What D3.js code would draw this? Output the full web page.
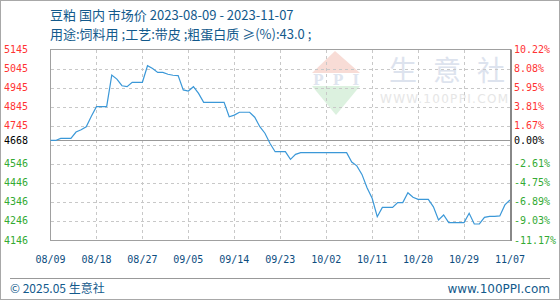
<!DOCTYPE html>
<html>
<head>
<meta charset="utf-8">
<script src="https://cdn.jsdelivr.net/npm/d3@7"></script>
<style>
  body { margin: 0; background: #fff; }
  svg { display: block; }
</style>
</head>
<body>
<svg id="chart" width="560" height="300"></svg>
<script>
// 豆粕 国内 市场价, one value per day from 08/09 to 11/07
const startDate = "2023-08-09";
const endDate = "2023-11-07";
const prices = [
  4668, 4668, 4679, 4679, 4679, 4712, 4724, 4740, 4795, 4845,
  4845, 4845, 5011, 4990, 4955, 4950, 4973, 4973, 4973, 5060,
  5045, 5025, 5025, 5015, 5010, 5008, 4933, 4927, 4950, 4915,
  4868, 4868, 4868, 4868, 4868, 4792, 4801, 4816, 4816, 4816,
  4790, 4740, 4706, 4652, 4609, 4609, 4609, 4569, 4595, 4604,
  4604, 4604, 4604, 4604, 4604, 4604, 4604, 4604, 4604, 4555,
  4535, 4490, 4420, 4365, 4268, 4317, 4317, 4317, 4342, 4342,
  4394, 4370, 4359, 4359, 4359, 4320, 4251, 4277, 4237, 4237,
  4237, 4237, 4286, 4230, 4230, 4265, 4270, 4270, 4272, 4330,
  4356
];
const basePrice = 4668;
const leftTicks = [5145, 5045, 4945, 4845, 4745, 4668, 4546, 4446, 4346, 4246, 4146];
const rightTicks = ["10.22%", "8.08%", "5.95%", "3.81%", "1.67%", "0.00%",
  "-2.61%", "-4.75%", "-6.89%", "-9.03%", "-11.17%"];
const gridValues = [5045, 4945, 4845, 4745, 4645, 4545, 4445, 4345, 4245];
const xTickLabels = ["08/09", "08/18", "08/27", "09/05", "09/14", "09/23",
  "10/02", "10/11", "10/20", "10/29", "11/07"];
const title = "豆粕 国内 市场价 2023-08-09 - 2023-11-07";
const subtitle = "用途:饲料用 ;工艺:带皮 ;粗蛋白质 ≥(%):43.0 ;";

const svg = d3.select("#chart");
const W = 560, H = 300;
const plot = { left: 50.5, right: 510, top: 49.5, bottom: 240 };
const blue = "#135a8c";
const mono = "'DejaVu Sans Mono', 'Liberation Mono', monospace";
const cjk = "'Noto Sans CJK SC', 'Noto Sans', sans-serif";

const parse = d3.timeParse("%Y-%m-%d");
const t0 = parse(startDate), t1 = parse(endDate);
const days = d3.timeDay.range(t0, d3.timeDay.offset(t1, 1));
const data = days.map((d, i) => ({ date: d, value: prices[i] }));

const x = d3.scaleTime().domain([t0, t1]).range([plot.left, plot.right]);
const y = d3.scaleLinear().domain([4146, 5145]).range([plot.bottom, plot.top]);

// outer frame
svg.append("rect")
  .attr("x", 0.5).attr("y", 0.5)
  .attr("width", W - 1).attr("height", H - 1)
  .attr("fill", "#fff").attr("stroke", "#a8a8a8");

// titles
svg.append("text").attr("x", 50).attr("y", 20)
  .attr("fill", blue).style("font", "13px " + cjk).text(title);
svg.append("text").attr("x", 50).attr("y", 39)
  .attr("fill", blue).style("font", "13px " + cjk).text(subtitle);

// watermark
const wm = svg.append("g");
wm.append("path").attr("d", "M335,51 L360,73 L312,73 Z").attr("fill", "#f8dcd6");
wm.append("path").attr("d", "M312,86 L360,86 L336,115 Z").attr("fill", "#dcf1df");
wm.append("text").attr("x", 336).attr("y", 85).attr("text-anchor", "middle")
  .attr("fill", "#dfe5ef").style("font", "bold 14px 'DejaVu Serif', serif")
  .attr("textLength", 46).text("PPI");
wm.selectAll("text.sys").data(["生", "意", "社"]).enter().append("text")
  .attr("x", (d, i) => 403 + i * 44).attr("y", 81)
  .attr("text-anchor", "middle").attr("fill", "#dde3ee")
  .style("font", "28px " + cjk).text(d => d);
wm.append("text").attr("x", 380).attr("y", 103)
  .attr("fill", "#e6e6e6").style("font", "12px 'DejaVu Sans', sans-serif")
  .attr("textLength", 128).text("WWW.100PPI.COM");

// grid
const grid = svg.append("g")
  .attr("stroke", "#c8c8c8").attr("stroke-dasharray", "3,3")
  .attr("shape-rendering", "crispEdges");
grid.selectAll("line.h").data(gridValues).enter().append("line")
  .attr("x1", plot.left).attr("x2", plot.right)
  .attr("y1", d => Math.round(y(d)) + 0.5).attr("y2", d => Math.round(y(d)) + 0.5);
const tickDates = xTickLabels.map((s, i) => d3.timeDay.offset(t0, i * 9));
grid.selectAll("line.v").data(tickDates.slice(1, -1)).enter().append("line")
  .attr("x1", d => Math.round(x(d)) + 0.5).attr("x2", d => Math.round(x(d)) + 0.5)
  .attr("y1", plot.top).attr("y2", plot.bottom);

// zero line
svg.append("line")
  .attr("x1", plot.left).attr("x2", plot.right)
  .attr("y1", Math.round(y(basePrice)) + 0.5).attr("y2", Math.round(y(basePrice)) + 0.5)
  .attr("stroke", "#999").attr("shape-rendering", "crispEdges");

// border
svg.append("rect")
  .attr("x", plot.left).attr("y", plot.top)
  .attr("width", plot.right - plot.left).attr("height", plot.bottom - plot.top)
  .attr("fill", "none").attr("stroke", "#a0a0a0").attr("shape-rendering", "crispEdges");
svg.append("line")
  .attr("x1", plot.right + 1).attr("x2", plot.right + 1)
  .attr("y1", plot.top).attr("y2", plot.bottom + 1)
  .attr("stroke", "#888").attr("stroke-width", 2);

// price line
svg.append("path").datum(data)
  .attr("fill", "none").attr("stroke", "#3b98d8").attr("stroke-width", 1.2)
  .attr("d", d3.line().x(d => x(d.date)).y(d => y(d.value)));

// y labels
const colorFor = v => v > basePrice ? "#ff3333" : v < basePrice ? "#33aa33" : "#000";
svg.append("g").selectAll("text").data(leftTicks).enter().append("text")
  .attr("x", 4).attr("y", d => y(d)).attr("dy", "0.35em")
  .attr("fill", colorFor).style("font", "10px " + mono).text(d => d);
svg.append("g").selectAll("text").data(rightTicks).enter().append("text")
  .attr("x", 514).attr("y", (d, i) => y(leftTicks[i])).attr("dy", "0.35em")
  .attr("fill", (d, i) => colorFor(leftTicks[i])).style("font", "10px " + mono).text(d => d);

// x labels
svg.append("g").selectAll("text").data(xTickLabels).enter().append("text")
  .attr("x", (d, i) => x(tickDates[i])).attr("y", 259).attr("dy", "0.35em")
  .attr("text-anchor", "middle").attr("fill", "#0d4d80")
  .style("font", "10px " + mono).text(d => d);

// footer
svg.append("line").attr("x1", 10).attr("x2", 550).attr("y1", 278.5).attr("y2", 278.5)
  .attr("stroke", "#999");
svg.append("text").attr("x", 10).attr("y", 289).attr("dy", "0.35em")
  .attr("fill", blue).style("font", "12px " + cjk).text("© 2025.05 生意社");
svg.append("text").attr("x", 550).attr("y", 289).attr("dy", "0.35em")
  .attr("text-anchor", "end").attr("fill", blue)
  .style("font", "12px 'DejaVu Sans', sans-serif").text("www.100PPI.com");
</script>
</body>
</html>
